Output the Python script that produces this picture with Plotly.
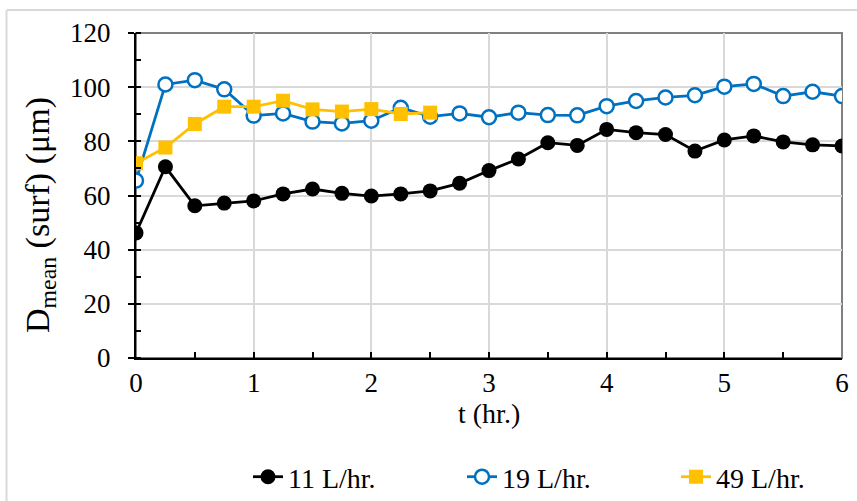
import plotly.graph_objects as go

t = [0, 0.25, 0.5, 0.75, 1, 1.25, 1.5, 1.75, 2, 2.25, 2.5, 2.75, 3, 3.25, 3.5, 3.75,
     4, 4.25, 4.5, 4.75, 5, 5.25, 5.5, 5.75, 6]
d11 = [46.2, 70.6, 56.2, 57.2, 58.0, 60.6, 62.4, 60.8, 59.8, 60.6, 61.7, 64.5, 69.2, 73.5,
       79.5, 78.5, 84.4, 83.2, 82.5, 76.4, 80.5, 82.0, 79.8, 78.7, 78.3]
d19 = [65.5, 101.0, 102.6, 99.2, 89.5, 90.3, 87.3, 86.6, 87.6, 92.4, 89.1, 90.3, 88.9, 90.6,
       89.7, 89.6, 93.0, 94.9, 96.2, 97.0, 100.2, 101.2, 96.7, 98.3, 96.7]
t49 = [0, 0.25, 0.5, 0.75, 1, 1.25, 1.5, 1.75, 2, 2.25, 2.5]
d49 = [71.9, 77.7, 86.4, 92.8, 92.8, 95.0, 91.8, 91.0, 91.9, 90.1, 90.6]

names = ["11 L/hr.", "19 L/hr.", "49 L/hr."]
x_title = "t (hr.)"
y_title = "D<sub>mean</sub> (surf) (μm)"
FONT = "Liberation Serif, Times New Roman, serif"

W, H = 857, 501
L, R, T, B = 136, 15, 33, 143
PW, PH = W - L - R, H - T - B


def px(xp):
    return (xp - L) / PW


def py(yp):
    return (H - B - yp) / PH


fig = go.Figure()
fig.add_trace(go.Scatter(x=t, y=d11, name=names[0], mode="lines+markers", legend="legend",
                         line=dict(color="#000000", width=2.8),
                         marker=dict(symbol="circle", size=15, color="#000000")))
fig.add_trace(go.Scatter(x=t, y=d19, name=names[1], mode="lines+markers", legend="legend2",
                         line=dict(color="#0070C0", width=2.8),
                         marker=dict(symbol="circle", size=14, color="#FFFFFF",
                                     line=dict(color="#0070C0", width=2.5))))
fig.add_trace(go.Scatter(x=t49, y=d49, name=names[2], mode="lines+markers", legend="legend3",
                         line=dict(color="#FFC000", width=2.8),
                         marker=dict(symbol="square", size=14, color="#FFC000")))

leg_common = dict(orientation="h", xanchor="left", yanchor="middle", y=py(477),
                  font=dict(size=28, family=FONT), bgcolor="rgba(0,0,0,0)")

fig.update_layout(
    width=W, height=H,
    margin=dict(l=L, r=R, t=T, b=B, autoexpand=False),
    paper_bgcolor="white", plot_bgcolor="white",
    font=dict(family=FONT, size=27, color="#000000"),
    showlegend=True,
    legend=dict(x=px(248), **leg_common),
    legend2=dict(x=px(462), **leg_common),
    legend3=dict(x=px(676), **leg_common),
    xaxis=dict(range=[0, 6], tickmode="linear", tick0=0, dtick=1,
               showgrid=True, gridcolor="#D9D9D9", gridwidth=1.5,
               showline=True, linecolor="#000000", linewidth=2,
               ticks="inside", ticklen=6, tickwidth=2, tickcolor="#000000",
               minor=dict(dtick=0.5, ticks="inside", ticklen=6, tickwidth=1.5,
                          tickcolor="#000000", showgrid=False),
               zeroline=False, automargin=False),
    xaxis2=dict(range=[0, 6], overlaying="x", anchor="y", side="bottom",
                tickmode="linear", tick0=0, dtick=1, showgrid=False, showline=False,
                zeroline=False, showticklabels=False,
                ticks="outside", ticklen=5, tickwidth=2, tickcolor="#000000"),
    yaxis=dict(range=[0, 120], tickmode="linear", tick0=0, dtick=20,
               showgrid=True, gridcolor="#D9D9D9", gridwidth=1.5,
               showline=True, linecolor="#000000", linewidth=2,
               ticks="outside", ticklen=6, tickwidth=2, tickcolor="#000000",
               minor=dict(dtick=10, ticks="inside", ticklen=5, tickwidth=1.5,
                          tickcolor="#000000", showgrid=False),
               zeroline=False, automargin=False, ticklabelstandoff=12),
    yaxis2=dict(range=[0, 120], overlaying="y", anchor="x", side="left",
                tickmode="linear", tick0=0, dtick=20, showgrid=False, showline=False,
                zeroline=False, showticklabels=False,
                ticks="inside", ticklen=4, tickwidth=2, tickcolor="#000000"),
    annotations=[
        dict(text=y_title, textangle=-90, xref="paper", yref="paper",
             x=px(40), y=py(215), xanchor="center", yanchor="middle",
             showarrow=False, font=dict(size=34, family=FONT)),
        dict(text=x_title, xref="paper", yref="paper",
             x=px(489), y=py(413), xanchor="center", yanchor="middle",
             showarrow=False, font=dict(size=28, family=FONT)),
    ],
    shapes=[
        dict(type="rect", xref="paper", yref="paper", x0=0, x1=1, y0=0, y1=1,
             line=dict(color="#808080", width=2), layer="below"),
        dict(type="line", xref="paper", yref="paper", x0=px(6.5), x1=px(6.5),
             y0=py(520), y1=py(10), line=dict(color="#D9D9D9", width=2), layer="below"),
        dict(type="line", xref="paper", yref="paper", x0=px(6.5), x1=px(870),
             y0=py(10), y1=py(10), line=dict(color="#D9D9D9", width=2), layer="below"),
    ],
)

fig.write_html("out.html", config={"displayModeBar": False},
               post_script="document.body.style.margin='0';")
